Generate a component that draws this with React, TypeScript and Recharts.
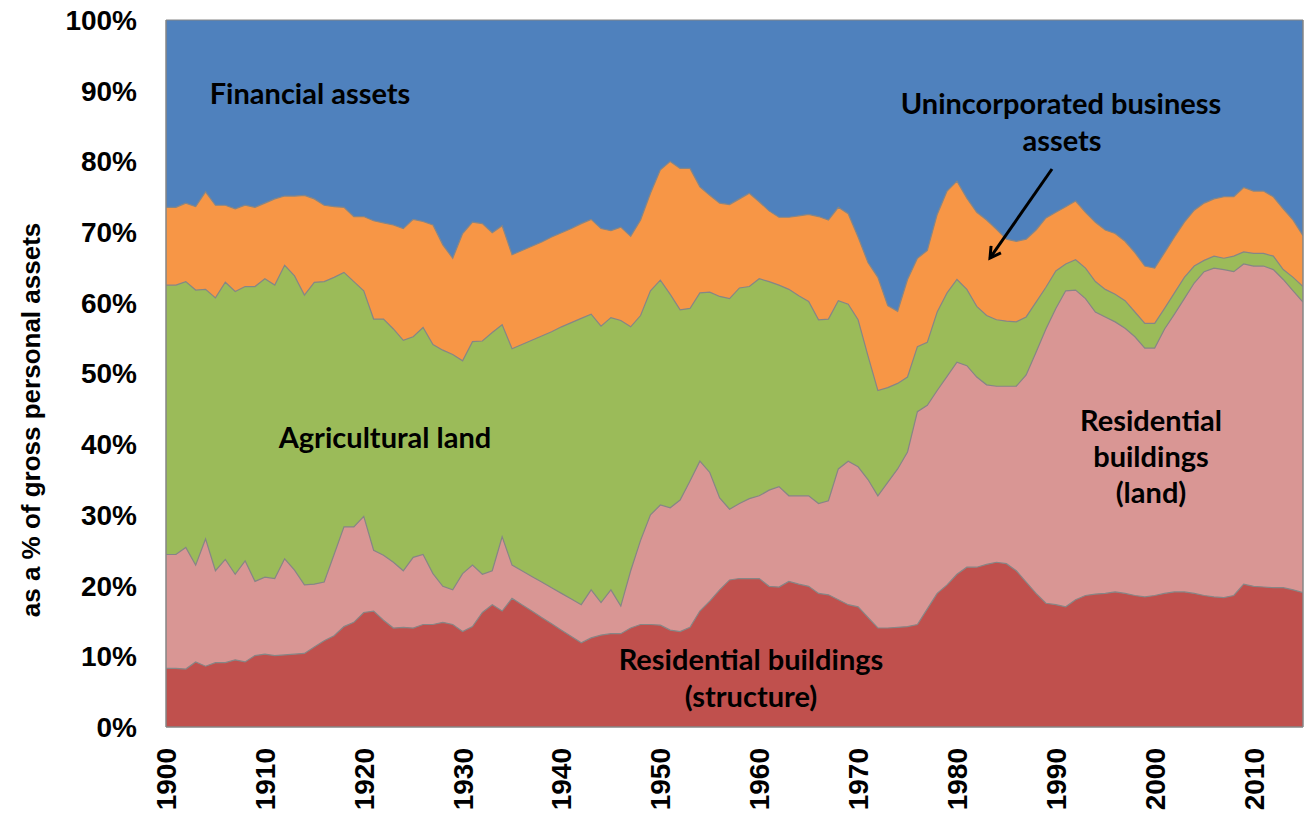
import React from 'react';
import { AreaChart, Area, XAxis, YAxis, ReferenceLine } from 'recharts';

// Categories: one point per year, 1900..2015
const FIRST_YEAR = 1900;
const LAST_YEAR = 2015;

// Upper edge of each band (cumulative share of gross personal assets, %)
// Residential buildings (structure)
const resStructureTop = [
  8.3, 8.3, 8.2, 9.2, 8.6, 9.1, 9.1, 9.5, 9.2, 10.1,
  10.3, 10.1, 10.2, 10.3, 10.4, 11.3, 12.2, 12.9, 14.2, 14.8,
  16.2, 16.4, 15.1, 14.0, 14.1, 14.0, 14.5, 14.5, 14.8, 14.5,
  13.5, 14.2, 16.2, 17.3, 16.4, 18.2, 17.3, 16.4, 15.5, 14.6,
  13.7, 12.8, 11.9, 12.6, 13.0, 13.2, 13.2, 14.0, 14.5, 14.5,
  14.4, 13.7, 13.5, 14.1, 16.4, 17.8, 19.4, 20.8, 21.0, 21.0,
  21.0, 19.9, 19.8, 20.6, 20.2, 19.9, 18.9, 18.7, 18.0, 17.3,
  17.0, 15.5, 14.0, 14.0, 14.1, 14.2, 14.5, 16.7, 18.9, 20.1,
  21.6, 22.6, 22.6, 23.0, 23.3, 23.1, 22.1, 20.5, 18.9, 17.5,
  17.3, 17.0, 18.0, 18.6, 18.8, 18.9, 19.1, 18.9, 18.6, 18.4,
  18.6, 18.9, 19.1, 19.1, 18.9, 18.6, 18.4, 18.3, 18.6, 20.2,
  19.9, 19.8, 19.7, 19.7, 19.4, 19.0,
];
// + Residential buildings (land)
const resLandTop = [
  24.4, 24.4, 25.4, 22.9, 26.6, 22.1, 23.7, 21.6, 23.5, 20.6,
  21.2, 21.0, 23.8, 22.2, 20.1, 20.2, 20.5, 24.4, 28.3, 28.3,
  29.8, 25.0, 24.3, 23.3, 22.1, 24.0, 24.4, 21.7, 19.9, 19.4,
  21.7, 22.9, 21.6, 22.1, 26.9, 22.9, 22.1, 21.3, 20.5, 19.7,
  18.9, 18.1, 17.3, 19.4, 17.6, 19.4, 17.1, 22.1, 26.4, 30.0,
  31.4, 31.0, 32.1, 34.8, 37.6, 36.0, 32.4, 30.8, 31.6, 32.3,
  32.7, 33.5, 34.0, 32.7, 32.7, 32.7, 31.6, 32.0, 36.5, 37.6,
  36.8, 35.0, 32.7, 34.6, 36.5, 38.9, 44.6, 45.5, 47.6, 49.6,
  51.6, 51.1, 49.5, 48.4, 48.2, 48.2, 48.2, 49.8, 53.0, 56.3,
  59.2, 61.7, 61.8, 60.6, 58.7, 58.0, 57.3, 56.4, 55.2, 53.6,
  53.6, 56.3, 58.4, 60.6, 62.8, 64.4, 64.9, 64.7, 64.4, 65.5,
  65.2, 65.2, 64.7, 63.3, 61.7, 60.1,
];
// + Agricultural land
const agriLandTop = [
  62.5, 62.5, 63.0, 61.8, 61.9, 60.7, 62.9, 61.6, 62.3, 62.3,
  63.4, 62.5, 65.3, 63.8, 61.1, 62.9, 63.0, 63.6, 64.3, 63.0,
  61.7, 57.7, 57.7, 56.3, 54.7, 55.2, 56.5, 54.1, 53.3, 52.7,
  51.8, 54.5, 54.6, 55.8, 56.9, 53.5, 54.1, 54.7, 55.3, 55.9,
  56.6, 57.2, 57.8, 58.4, 56.7, 57.9, 57.5, 56.6, 58.2, 61.7,
  63.2, 61.2, 59.0, 59.2, 61.4, 61.5, 60.9, 60.6, 62.1, 62.3,
  63.4, 63.0, 62.5, 61.9, 61.0, 60.2, 57.6, 57.7, 60.3, 59.8,
  57.6, 52.5, 47.6, 48.0, 48.6, 49.5, 53.8, 54.4, 58.7, 61.4,
  63.3, 61.9, 59.5, 58.2, 57.6, 57.4, 57.3, 58.0, 60.1, 62.2,
  64.5, 65.5, 66.1, 64.9, 63.0, 61.9, 61.2, 60.3, 58.7, 57.1,
  57.1, 59.2, 61.4, 63.6, 65.2, 66.0, 66.6, 66.3, 66.6, 67.2,
  67.0, 67.0, 66.6, 64.7, 63.6, 62.3,
];
// + Unincorporated business assets
const businessTop = [
  73.5, 73.5, 74.1, 73.6, 75.7, 73.8, 73.8, 73.3, 73.8, 73.5,
  74.1, 74.7, 75.1, 75.1, 75.2, 74.7, 73.8, 73.6, 73.5, 72.2,
  72.2, 71.6, 71.3, 71.0, 70.5, 71.8, 71.5, 71.0, 68.2, 66.3,
  69.8, 71.4, 71.2, 69.9, 70.9, 66.8, 67.4, 68.0, 68.6, 69.3,
  69.9, 70.5, 71.2, 71.8, 70.5, 70.2, 70.7, 69.4, 71.7, 75.5,
  78.8, 80.0, 79.0, 79.0, 76.4, 75.2, 74.1, 73.9, 74.7, 75.5,
  74.3, 73.0, 72.1, 72.1, 72.3, 72.5, 72.2, 71.7, 73.5, 72.6,
  69.3, 65.7, 63.6, 59.6, 58.8, 63.3, 66.3, 67.4, 72.5, 75.8,
  77.2, 74.8, 72.8, 71.7, 70.4, 69.0, 68.7, 69.0, 70.3, 72.0,
  72.8, 73.6, 74.4, 72.8, 71.4, 70.3, 69.8, 68.7, 67.1, 65.2,
  64.9, 67.1, 69.3, 71.4, 73.1, 74.1, 74.7, 75.0, 75.0, 76.3,
  75.8, 75.8, 75.0, 73.3, 71.7, 69.5,
];
// + Financial assets = whole of gross personal assets
const TOTAL = 100;

const xTicks = [1900, 1910, 1920, 1930, 1940, 1950, 1960, 1970, 1980, 1990, 2000, 2010];
const yTicks = [0, 10, 20, 30, 40, 50, 60, 70, 80, 90, 100];

const years = Array.from({ length: LAST_YEAR - FIRST_YEAR + 1 }, (_, i) => FIRST_YEAR + i);
const data = years.map((year, i) => ({
  year,
  financial: TOTAL,
  business: businessTop[i],
  agri: agriLandTop[i],
  resLand: resLandTop[i],
  resStructure: resStructureTop[i],
}));

const bands = [
  { key: 'financial', color: '#4F81BD' },
  { key: 'business', color: '#F79646' },
  { key: 'agri', color: '#9BBB59' },
  { key: 'resLand', color: '#D99694' },
  { key: 'resStructure', color: '#C0504D' },
];

const W = 1308;
const H = 817;
const EDGE = '#868686';
const AXIS_FONT = '"Liberation Sans", Arial, sans-serif';
const NOTE_FONT = 'Lato, "Open Sans", sans-serif';

const XTick = (props: any) => {
  const { x, y, payload } = props;
  const bx = x + 10;
  const by = y + 21;
  return (
    <text
      x={bx}
      y={by}
      transform={`rotate(-90, ${bx}, ${by})`}
      textAnchor="end"
      fontFamily={AXIS_FONT}
      fontWeight="bold"
      fontSize={28}
      fill="#000"
    >
      {payload.value}
    </text>
  );
};

const noteStyle: React.CSSProperties = {
  fontFamily: NOTE_FONT,
  fontWeight: 700,
  fontSize: 29,
  fill: '#000',
};

export default function App() {
  return (
    <div style={{ position: 'absolute', left: 0, top: 0, width: W, height: H, background: '#fff' }}>
      <AreaChart width={W} height={H} data={data} margin={{ top: 20, right: 5, bottom: 0, left: 0 }}>
        <XAxis
          dataKey="year"
          type="number"
          domain={[FIRST_YEAR, LAST_YEAR]}
          ticks={xTicks}
          interval={0}
          height={90}
          tickLine={false}
          tickSize={0}
          tickMargin={0}
          axisLine={{ stroke: EDGE, strokeWidth: 1.5 }}
          tick={<XTick />}
          allowDataOverflow
        />
        <YAxis
          type="number"
          domain={[0, 100]}
          ticks={yTicks}
          interval={0}
          width={166}
          tickLine={false}
          tickSize={0}
          tickMargin={29}
          axisLine={{ stroke: EDGE, strokeWidth: 1.5 }}
          tickFormatter={(v: number) => `${v}%`}
          tick={{ fontFamily: AXIS_FONT, fontWeight: 'bold', fontSize: 28, fill: '#000' }}
        />
        {bands.map((b) => (
          <Area
            key={b.key}
            type="linear"
            dataKey={b.key}
            fill={b.color}
            fillOpacity={1}
            stroke={EDGE}
            strokeWidth={1.2}
            dot={false}
            activeDot={false}
            isAnimationActive={false}
          />
        ))}
        <ReferenceLine x={LAST_YEAR} stroke={EDGE} strokeWidth={1.5} ifOverflow="extendDomain" />
      </AreaChart>
      <svg
        width={W}
        height={H}
        style={{ position: 'absolute', left: 0, top: 0, pointerEvents: 'none' }}
      >
        <defs>
          <marker id="ah" viewBox="0 0 10 10" refX="8" refY="5" markerWidth="5" markerHeight="5" orient="auto">
            <path d="M1,1 L8,5 L1,9" fill="none" stroke="#000" strokeWidth="2" />
          </marker>
        </defs>
        <text
          x={40}
          y={420}
          transform="rotate(-90, 40, 420)"
          textAnchor="middle"
          fontFamily={AXIS_FONT}
          fontWeight="bold"
          fontSize={26}
          fill="#000"
        >
          as a % of gross personal assets
        </text>
        <text x={310} y={104} textAnchor="middle" style={noteStyle}>Financial assets</text>
        <text x={1061} y={114} textAnchor="middle" style={noteStyle}>Unincorporated business</text>
        <text x={1062} y={151} textAnchor="middle" style={noteStyle}>assets</text>
        <line x1={1052} y1={169} x2={990} y2={258} stroke="#000" strokeWidth={3} markerEnd="url(#ah)" />
        <text x={385} y={448} textAnchor="middle" style={noteStyle}>Agricultural land</text>
        <text x={751} y={670} textAnchor="middle" style={noteStyle}>Residential buildings</text>
        <text x={751} y={707} textAnchor="middle" style={noteStyle}>(structure)</text>
        <text x={1151} y={431} textAnchor="middle" style={noteStyle}>Residential</text>
        <text x={1151} y={467} textAnchor="middle" style={noteStyle}>buildings</text>
        <text x={1151} y={503} textAnchor="middle" style={noteStyle}>(land)</text>
      </svg>
    </div>
  );
}
